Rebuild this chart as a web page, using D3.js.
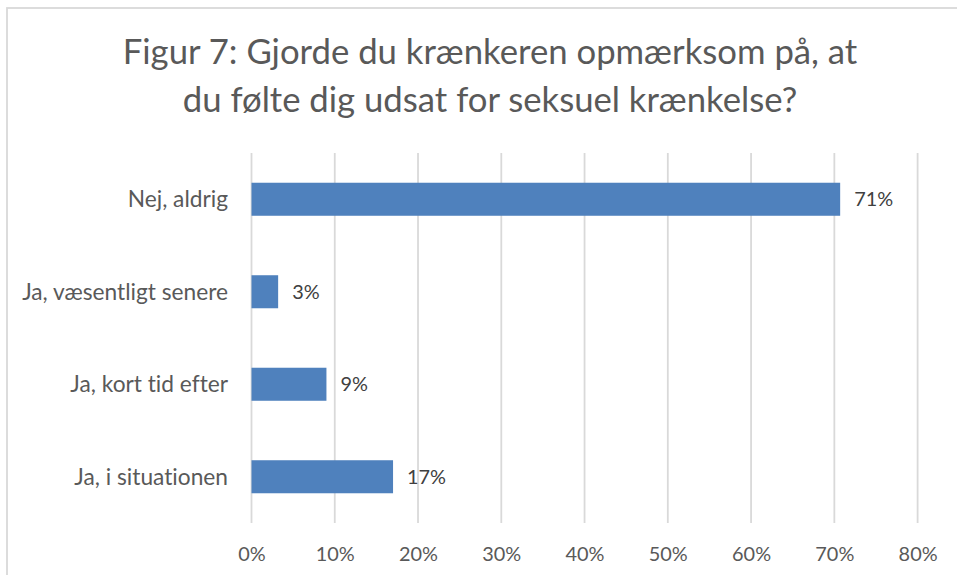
<!DOCTYPE html>
<html>
<head>
<meta charset="utf-8">
<script src="https://cdn.jsdelivr.net/npm/d3@7/dist/d3.min.js"></script>
<style>
  html, body { margin: 0; padding: 0; background: #fff; }
  svg { display: block; }
  text { font-variant-ligatures: none; font-feature-settings: "liga" 0, "clig" 0; }
</style>
</head>
<body>
<svg id="chart" width="957" height="575"></svg>
<script>
const titleLines = ["Figur 7: Gjorde du krænkeren opmærksom på, at", "du følte dig udsat for seksuel krænkelse?"];
const categories = ["Nej, aldrig", "Ja, væsentligt senere", "Ja, kort tid efter", "Ja, i situationen"];
const values = [0.707, 0.032, 0.090, 0.170];
const valueLabels = ["71%", "3%", "9%", "17%"];
const tickValues = [0, 0.1, 0.2, 0.3, 0.4, 0.5, 0.6, 0.7, 0.8];

const FONT = "Lato, 'Open Sans', 'DejaVu Sans', sans-serif";
const svg = d3.select("#chart");
const W = 957, H = 575;
const plot = { left: 251.5, right: 917.6, top: 153, bottom: 523 };

// fit font-size so a reference string has a target width
function fitSize(text, target, base) {
  const t = svg.append("text").attr("font-family", FONT).attr("font-size", base).text(text);
  const w = t.node().getComputedTextLength();
  t.remove();
  return base * target / w;
}

// chart border (cut off at right/bottom like the reference)
svg.append("rect")
  .attr("x", 7).attr("y", 8).attr("width", W + 20).attr("height", H + 20)
  .attr("fill", "#fff").attr("stroke", "#d9d9d9").attr("stroke-width", 1.8);

const x = d3.scaleLinear().domain([0, 0.8]).range([plot.left, plot.right]);
const y = d3.scaleBand().domain(categories).range([plot.top, plot.bottom]).paddingInner(0.643).paddingOuter(0.3215);

// gridlines
svg.append("g").selectAll("line").data(tickValues).join("line")
  .attr("x1", d => x(d)).attr("x2", d => x(d))
  .attr("y1", plot.top).attr("y2", plot.bottom)
  .attr("stroke", "#d9d9d9").attr("stroke-width", 1.8);

// title
const titleSize = fitSize(titleLines[0], 735, 34);
svg.append("g").selectAll("text").data(titleLines).join("text")
  .attr("x", 490).attr("y", (d, i) => 64 + i * 48)
  .attr("text-anchor", "middle")
  .attr("font-family", FONT).attr("font-size", titleSize)
  .attr("fill", "#595959")
  .text(d => d);

// bars
svg.append("g").selectAll("rect").data(categories).join("rect")
  .attr("x", x(0))
  .attr("y", d => y(d))
  .attr("width", (d, i) => x(values[i]) - x(0))
  .attr("height", y.bandwidth())
  .attr("fill", "#4f81bd");

// category labels
const catSize = fitSize("Ja, væsentligt senere", 206, 20);
svg.append("g").selectAll("text").data(categories).join("text")
  .attr("x", 228)
  .attr("y", d => y(d) + y.bandwidth() / 2)
  .attr("dy", "0.35em")
  .attr("text-anchor", "end")
  .attr("font-family", FONT).attr("font-size", catSize)
  .attr("fill", "#595959")
  .text(d => d);

// data labels
const numSize = fitSize("10%", 39, 20);
svg.append("g").selectAll("text").data(categories).join("text")
  .attr("x", (d, i) => x(values[i]) + 14)
  .attr("y", d => y(d) + y.bandwidth() / 2)
  .attr("dy", "0.35em")
  .attr("font-family", FONT).attr("font-size", numSize)
  .attr("fill", "#404040")
  .text((d, i) => valueLabels[i]);

// x axis tick labels
const xAxis = d3.axisBottom(x).tickValues(tickValues).tickFormat(d3.format(".0%")).tickSize(0).tickPadding(0);
const gx = svg.append("g").attr("transform", `translate(0,${plot.bottom})`).call(xAxis);
gx.select(".domain").remove();
gx.selectAll("text")
  .attr("y", 38).attr("dy", 0)
  .attr("font-family", FONT).attr("font-size", numSize)
  .attr("fill", "#595959");
</script>
</body>
</html>
